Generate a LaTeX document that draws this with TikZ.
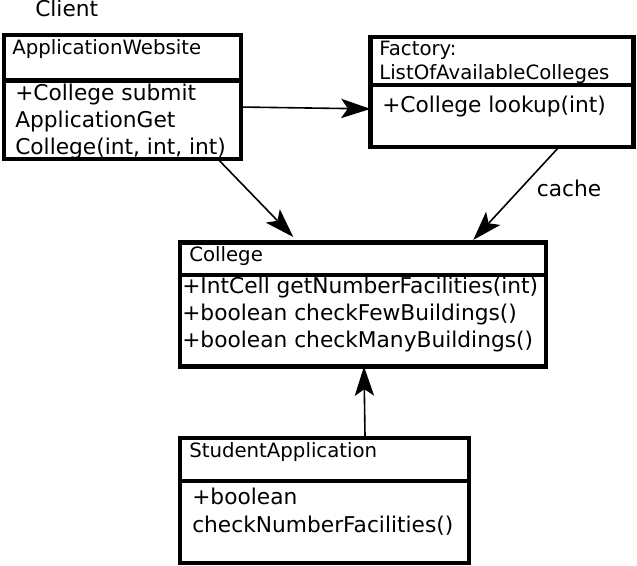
\documentclass[tikz,border=0pt]{standalone}
\usepackage{fontspec}
\setmainfont{DejaVu Sans}
\usetikzlibrary{positioning,arrows.meta}
\tikzset{
  flow/.style={-{Stealth[length=22pt,width=14.5pt,inset=5pt]}, line width=1.2pt},
  cls/.style={draw, line width=3.2pt, inner sep=0pt, outer sep=0pt, anchor=north west},
  hd/.style={font=\fontsize{14.8}{17.5}\selectfont, inner sep=0pt, anchor=base west, align=left},
  ops/.style={font=\fontsize{16.3}{20.6}\selectfont, inner sep=0pt, anchor=base west, align=left},
}
\begin{document}
\begin{tikzpicture}[x=0.75pt,y=-0.75pt]
  \useasboundingbox (0,0) rectangle (637,566);
  % client
  \node[ops] (client) at (35,16.7) {Client};
  \node[cls, minimum width=178pt, minimum height=33.9pt] (awh) at (3.7,35.3) {};
  \node[cls, minimum width=178pt, minimum height=59pt, below=0pt of awh] (awb) {};
  \node[hd] (awt) at (12,55) {ApplicationWebsite};
  \node[ops] (awo) at (15,155) {+College submit\\ApplicationGet\\College(int, int, int)};
  % factory
  \node[cls, minimum width=197.3pt, minimum height=36.2pt] (fch) at (370.5,36.7) {};
  \node[cls, minimum width=197.3pt, minimum height=46.5pt, below=0pt of fch] (fcb) {};
  \node[hd] (fct) at (379,79.3) {Factory:\\ListOfAvailableColleges};
  \node[ops] (fco) at (382,113) {+College lookup(int)};
  % college
  \node[cls, minimum width=274.5pt, minimum height=24.4pt] (clh) at (180,242.5) {};
  \node[cls, minimum width=274.5pt, minimum height=68.6pt, below=0pt of clh] (clb) {};
  \node[hd] (clt) at (189,261.7) {College};
  \node[ops] (clo) at (182,348) {+IntCell getNumberFacilities(int)\\+boolean checkFewBuildings()\\+boolean checkManyBuildings()};
  % student application
  \node[cls, minimum width=216.75pt, minimum height=32.25pt] (sah) at (180,438) {};
  \node[cls, minimum width=216.75pt, minimum height=61.5pt, below=0pt of sah] (sab) {};
  \node[hd] (sat) at (189,458) {StudentApplication};
  \node[ops, font=\fontsize{16.3}{21}\selectfont] (sao) at (192,533) {+boolean\\checkNumberFacilities()};
  % links
  \draw[flow] ([yshift=9.6pt]awb.east) -- ([yshift=5.3pt]fcb.west);
  \draw[flow] ([xshift=71.7pt]awb.south) -- ([xshift=-52.3pt,yshift=4.1pt]clh.north);
  \draw[flow] ([xshift=42.75pt]fcb.south) -- ([xshift=82.7pt,yshift=1.9pt]clh.north);
  \node[ops] (cache) at (536.7,196.7) {cache};
  \draw[flow] ([xshift=30.4pt]sah.north) -- ([xshift=0.75pt]clb.south);
\end{tikzpicture}
\end{document}
